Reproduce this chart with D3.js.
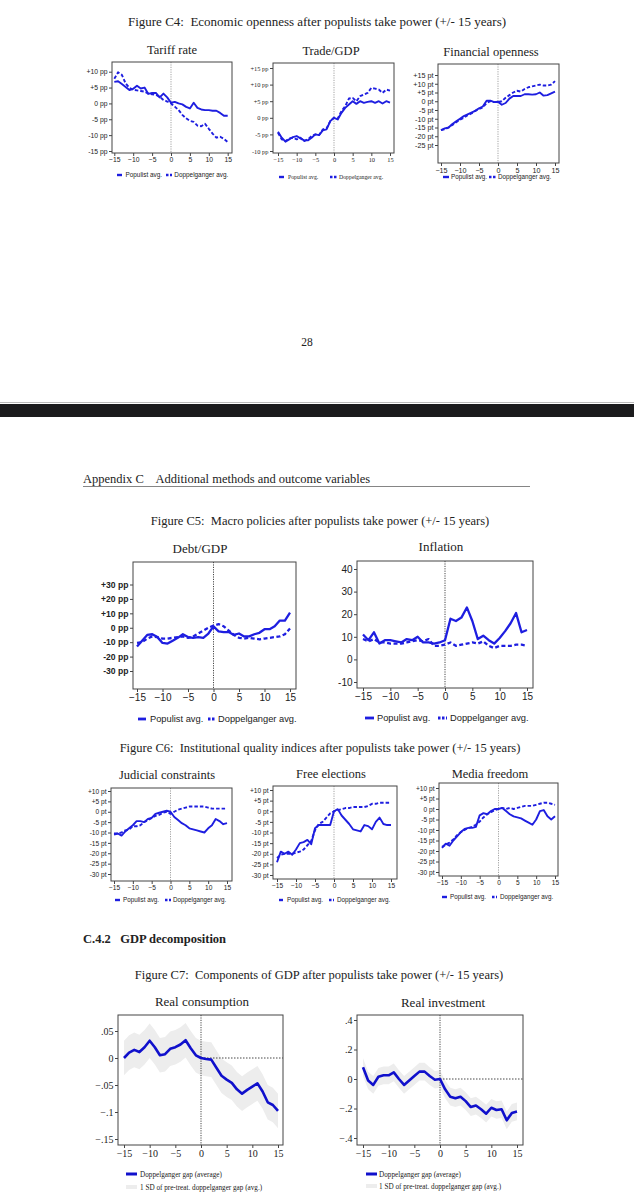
<!DOCTYPE html>
<html>
<head>
<meta charset="utf-8">
<script src="https://cdn.jsdelivr.net/npm/d3@7"></script>
<style>
  body { margin: 0; background: #fff; }
  svg { display: block; }
</style>
</head>
<body>
<script>
// years relative to populist taking power
const years = d3.range(-15, 16);

// Figure C4
const tariffPop = [6.8, 7.0, 6.1, 5.2, 4.2, 4.6, 5.6, 4.7, 5.0, 3.0, 3.3, 3.3, 1.9, 3.1, 1.9, 0.2, 0.5, 0, -0.3, -1.1, -1.6, 0.2, -1.4, -1.9, -2.1, -2.1, -2.3, -2.3, -3.0, -3.9, -3.9];
const tariffDop = [7.8, 9.8, 9.0, 6.3, 4.9, 4.3, 4.1, 3.9, 3.7, 3.1, 2.9, 2.7, 2.1, 1.1, 0.6, 0, -1.0, -2.1, -3.6, -4.7, -5.5, -5.8, -7.0, -7.2, -6.4, -8.0, -9.5, -10.8, -10.5, -11.2, -12.2];
const tradePop = [-4.2, -6.0, -7.2, -6.5, -5.8, -5.5, -6.2, -6.8, -6.8, -6.0, -5.0, -5.2, -3.8, -3.5, -1.0, 0, -0.5, 1.5, 3.0, 4.0, 5.0, 4.2, 5.0, 4.5, 4.8, 5.0, 4.5, 5.0, 4.3, 5.0, 4.6];
const tradeDop = [-4.5, -6.5, -7.0, -6.2, -6.0, -6.5, -6.0, -7.0, -6.5, -5.5, -5.0, -5.2, -3.5, -3.2, -1.0, 0, -0.2, 2.0, 3.5, 5.8, 6.0, 5.0, 6.5, 7.0, 7.5, 9.0, 8.8, 8.5, 7.5, 8.5, 8.2];
const finPop = [-16.5, -15.5, -15.0, -13.0, -11.5, -10.0, -8.5, -7.5, -6.5, -5.5, -4.0, -3.0, 0.3, 0.3, -0.5, -0.3, -2.0, -1.0, 1.5, 3.0, 3.0, 3.0, 4.0, 4.0, 3.8, 4.0, 5.0, 3.2, 3.5, 4.5, 5.5];
const finDop = [-16.5, -16.0, -15.0, -13.5, -12.0, -10.5, -9.5, -8.0, -7.0, -5.5, -4.5, -3.5, -1.0, 0, -0.5, -0.5, 0, 2.0, 3.5, 5.0, 6.0, 5.5, 7.0, 8.0, 8.5, 9.0, 9.5, 9.0, 9.0, 9.5, 11.5];

// Figure C5
const debtPop = [-13, -9, -5, -4.5, -6.5, -10.5, -11, -9, -7, -4.5, -6.5, -7, -6.5, -7, -4, 1, -2.5, -3, -3, -5, -4, -6, -6, -4.5, -3.5, -1, -1, 1, 5, 5, 10.5];
const debtDop = [-10.5, -10, -7.5, -6, -6.5, -7.5, -7.5, -7, -6.5, -6, -7, -6, -4, -2, 0, 1.5, 2.5, 1, -2, -5, -7, -7.5, -7, -7.5, -8, -7.5, -7, -6.5, -6, -4.5, -0.5];
const inflPop = [11, 8.5, 12, 7, 8.5, 8.5, 8, 7.5, 9, 8.5, 10, 7.5, 7.5, 7, 7.5, 8.5, 18, 17, 18.5, 23, 17, 9, 10.5, 8.5, 7, 9.5, 12.5, 16, 20.5, 12, 13];
const inflDop = [9, 8, 9, 7.5, 7.5, 7, 7, 7, 7.5, 8, 8.5, 8, 9, 6, 6, 6.5, 7.5, 6, 6.5, 7, 7.5, 7, 8, 6, 5, 6, 6, 6, 6.5, 6.5, 6];

// Figure C6
const judPop = [-11, -10.5, -11.5, -9.5, -8, -6.5, -4.5, -4.5, -5, -3.5, -3, -1, -0.5, 0, 0.5, 0, -2.5, -4, -5.5, -6.5, -8, -8.5, -9, -9.5, -10, -8, -6.5, -3.5, -4.5, -6, -5.5];
const judDop = [-10.5, -10.5, -10, -9, -8.5, -7, -7, -6.5, -5, -4, -3, -2, -1.5, -0.5, 0, -1, 0, 1, 1.5, 2, 2.5, 2.5, 2.5, 2.5, 2.5, 2, 1.5, 1.5, 1.5, 1.5, 1.5];
const elecPop = [-24, -19, -20, -19, -20.5, -18, -15, -14.5, -13.5, -15.5, -8, -6.5, -6.5, -6.5, -6.5, 0, 1, -2, -4, -6, -8.5, -9, -9.5, -6.5, -7, -8.5, -5, -3, -6, -6.5, -6.5];
const elecDop = [-22, -20.5, -20, -20, -20, -19.5, -19, -18, -16, -14, -9, -6, -5, -3, -1, 0, 0.5, 1, 1.5, 1.5, 2, 2, 2, 2, 2.5, 3.5, 3.5, 4, 4, 4, 4];
const mediaPop = [-18.5, -16.5, -17.5, -15, -13, -11, -9.5, -9, -9, -8.5, -3, -2, -2.5, -1, 0, 0, 0.5, -1, -2.5, -3.5, -4, -4.5, -5.5, -6.5, -7.5, -5, -1, -0.5, -3.5, -5, -3.5];
const mediaDop = [-18, -17, -16, -14.5, -12.5, -11, -10, -9, -8.5, -7.5, -6, -4, -2.5, -1.5, -0.5, 0, 0.5, 0, 0.5, 0, 0.5, 1, 1.5, 1.5, 1.5, 2, 2.5, 3, 3, 2.5, 2];

// Figure C7
const consGap = [0, 0.010, 0.015, 0.011, 0.020, 0.032, 0.020, 0.005, 0.007, 0.017, 0.020, 0.025, 0.033, 0.018, 0.005, 0, -0.002, -0.003, -0.018, -0.033, -0.040, -0.046, -0.058, -0.066, -0.059, -0.053, -0.047, -0.062, -0.082, -0.087, -0.098];
const consSD = 0.032;
const invGap = [0.08, -0.01, -0.04, 0.015, 0.025, 0.025, 0.045, 0.0, -0.04, -0.01, 0.02, 0.05, 0.05, 0.02, -0.005, 0, -0.07, -0.12, -0.13, -0.12, -0.15, -0.19, -0.18, -0.205, -0.235, -0.195, -0.21, -0.205, -0.28, -0.23, -0.22];
const invSD = 0.06;

const xTicks = [-15, -10, -5, 0, 5, 10, 15];
const ppTicks = [-15, -10, -5, 0, 5, 10];
const tradeTicks = [-10, -5, 0, 5, 10, 15];
const finTicks = [-25, -20, -15, -10, -5, 0, 5, 10, 15];
const debtTicks = [-30, -20, -10, 0, 10, 20, 30];
const inflTicks = [-10, 0, 10, 20, 30, 40];
const instTicks = [-30, -25, -20, -15, -10, -5, 0, 5, 10];
const consTicks = [-0.15, -0.1, -0.05, 0, 0.05];
const invTicks = [-0.4, -0.2, 0, 0.2, 0.4];

const SANS = "Liberation Sans, Arial, sans-serif";
const SERIF = "Liberation Serif, Times New Roman, serif";
const BLUE = "#1e1ee0";

const signed = unit => v => (v > 0 ? "+" : "") + v + " " + unit;
const decimal = v => v === 0 ? "0" : d3.format(".2~f")(v).replace("0.", ".");

const svg = d3.select("body").append("svg")
    .attr("width", 634)
    .attr("height", 1200);

// ---- page text ----
function pageText(x, y, str, size, opts = {}) {
    svg.append("text")
        .attr("x", x).attr("y", y)
        .attr("text-anchor", opts.anchor || "middle")
        .style("font-family", SERIF)
        .style("font-size", size + "px")
        .style("font-weight", opts.bold ? "700" : "400")
        .attr("fill", "#222")
        .attr("xml:space", "preserve")
        .text(str);
}

pageText(317, 26, "Figure C4:  Economic openness after populists take power (+/- 15 years)", 13);
pageText(307, 346, "28", 11.5);
svg.append("rect").attr("x", 0).attr("y", 402).attr("width", 634).attr("height", 1).attr("fill", "#bbb");
svg.append("rect").attr("x", 0).attr("y", 404).attr("width", 634).attr("height", 13).attr("fill", "#1b1b1d");
pageText(83, 483, "Appendix C    Additional methods and outcome variables", 12.5, {anchor: "start"});
svg.append("line").attr("x1", 83).attr("x2", 530).attr("y1", 486.5).attr("y2", 486.5).attr("stroke", "#666").attr("stroke-width", 0.8);
pageText(320, 525, "Figure C5:  Macro policies after populists take power (+/- 15 years)", 12.5);
pageText(320, 752, "Figure C6:  Institutional quality indices after populists take power (+/- 15 years)", 12.5);
pageText(83, 943, "C.4.2   GDP decomposition", 12.5, {anchor: "start", bold: true});
pageText(319, 979, "Figure C7:  Components of GDP after populists take power (+/- 15 years)", 12.5);

// ---- panels ----
function drawPanel(cfg) {
    const g = svg.append("g");
    const [fx0, fy0, fx1, fy1] = cfg.frame;
    const x = d3.scaleLinear().domain([-15, 15]).range(cfg.xr);
    const y = d3.scaleLinear().domain(cfg.yd).range(cfg.yr);
    const color = cfg.color || BLUE;

    g.append("rect")
        .attr("x", fx0).attr("y", fy0)
        .attr("width", fx1 - fx0).attr("height", fy1 - fy0)
        .attr("fill", "#fff");

    if (cfg.band) {
        const area = d3.area()
            .x((d, i) => x(years[i]))
            .y0(d => y(d - cfg.band.sd))
            .y1(d => y(d + cfg.band.sd));
        g.append("path").datum(cfg.band.values)
            .attr("d", area)
            .attr("fill", "#ededed");
    }

    g.append("line")
        .attr("x1", x(0)).attr("x2", x(0))
        .attr("y1", fy0).attr("y2", fy1)
        .attr("stroke", cfg.vlineColor || "#999")
        .attr("stroke-width", 0.9)
        .attr("stroke-dasharray", "1.2,1.2");

    if (cfg.hzero) {
        g.append("line")
            .attr("x1", x(0)).attr("x2", fx1)
            .attr("y1", y(0)).attr("y2", y(0))
            .attr("stroke", "#333")
            .attr("stroke-width", 0.9)
            .attr("stroke-dasharray", "1.5,1.5");
    }

    const line = d3.line().x((d, i) => x(years[i])).y(d => y(d));
    for (const s of cfg.series) {
        g.append("path").datum(s.values)
            .attr("d", line)
            .attr("fill", "none")
            .attr("stroke", color)
            .attr("stroke-width", cfg.lw || 1.9)
            .attr("stroke-linejoin", "round")
            .attr("stroke-dasharray", s.dashed ? cfg.dash || "3.5,2" : null);
    }

    g.append("rect")
        .attr("x", fx0).attr("y", fy0)
        .attr("width", fx1 - fx0).attr("height", fy1 - fy0)
        .attr("fill", "none")
        .attr("stroke", "#444")
        .attr("stroke-width", 1);

    const yAxis = g.append("g")
        .attr("transform", `translate(${fx0},0)`)
        .call(d3.axisLeft(y).tickValues(cfg.yTicks).tickFormat(cfg.yFmt).tickSize(3).tickPadding(1.5));
    const xAxis = g.append("g")
        .attr("transform", `translate(0,${fy1})`)
        .call(d3.axisBottom(x).tickValues(xTicks).tickSize(3).tickPadding(1.5));

    for (const [ax, size] of [[yAxis, cfg.yFont], [xAxis, cfg.xFont]]) {
        ax.select(".domain").remove();
        ax.selectAll("line").attr("stroke", "#444");
        ax.selectAll("text")
            .style("font-family", cfg.font)
            .style("font-size", size + "px")
            .style("font-weight", cfg.yBold && ax === yAxis ? "700" : "400")
            .attr("fill", "#222");
    }

    g.append("text")
        .attr("x", cfg.title[1]).attr("y", cfg.title[2])
        .attr("text-anchor", "middle")
        .style("font-family", SERIF)
        .style("font-size", (cfg.titleSize || 12.5) + "px")
        .attr("fill", "#222")
        .text(cfg.title[0]);

    // legend
    const L = cfg.legend;
    L.items.forEach((it, i) => {
        const ly = L.y + (L.rowGap ? i * L.rowGap : 0);
        if (it.kind === "band") {
            g.append("rect")
                .attr("x", it.s0).attr("y", ly - 2)
                .attr("width", it.s1 - it.s0).attr("height", 4)
                .attr("fill", "#ededed");
        } else {
            g.append("line")
                .attr("x1", it.s0).attr("x2", it.s1)
                .attr("y1", ly).attr("y2", ly)
                .attr("stroke", color)
                .attr("stroke-width", L.sw || 2.4)
                .attr("stroke-dasharray", it.kind === "dash" ? "2.5,1.5" : null);
        }
        g.append("text")
            .attr("x", it.tx).attr("y", ly)
            .attr("dy", "0.35em")
            .style("font-family", L.font || cfg.font)
            .style("font-size", L.size + "px")
            .attr("fill", "#222")
            .text(it.text);
    });
}

const popTxt = "Populist avg.", dopTxt = "Doppelganger avg.";

// C4
drawPanel({
    frame: [112, 62, 232, 153], xr: [114.3, 227.7], yd: [-15, 10], yr: [151, 71.7],
    yTicks: ppTicks, yFmt: signed("pp"), font: SANS, yFont: 6.8, xFont: 6.8,
    title: ["Tariff rate", 172, 54],
    series: [{values: tariffPop}, {values: tariffDop, dashed: true}],
    legend: {y: 175, size: 6.4, items: [
        {kind: "solid", s0: 117, s1: 122, tx: 125.5, text: popTxt},
        {kind: "dash", s0: 166, s1: 172, tx: 174.3, text: dopTxt}]}
});
drawPanel({
    frame: [273, 63, 394, 153], xr: [278, 390], yd: [-10, 15], yr: [151, 68],
    yTicks: tradeTicks, yFmt: signed("pp"), font: SERIF, yFont: 6.4, xFont: 6.4,
    title: ["Trade/GDP", 331, 55],
    series: [{values: tradePop}, {values: tradeDop, dashed: true}],
    legend: {y: 177, size: 5.8, items: [
        {kind: "solid", s0: 279, s1: 284, tx: 288, text: popTxt},
        {kind: "dash", s0: 330, s1: 337, tx: 339, text: dopTxt}]}
});
drawPanel({
    frame: [438, 64, 559, 163], xr: [441, 555], yd: [-25, 15], yr: [145, 75],
    yTicks: finTicks, yFmt: signed("pt"), font: SANS, yFont: 7.2, xFont: 7.2,
    title: ["Financial openness", 491, 56],
    series: [{values: finPop}, {values: finDop, dashed: true}],
    legend: {y: 177, size: 6.3, items: [
        {kind: "solid", s0: 443, s1: 449, tx: 451, text: popTxt},
        {kind: "dash", s0: 489, s1: 496, tx: 498, text: dopTxt}]}
});

// C5
drawPanel({
    frame: [133, 562, 296, 689], xr: [137, 290], yd: [-30, 30], yr: [671, 584.5],
    yTicks: debtTicks, yFmt: signed("pp"), font: SANS, yFont: 8.6, xFont: 10, yBold: true,
    title: ["Debt/GDP", 200, 553], titleSize: 13, lw: 2.3, dash: "4,2.5", vlineColor: "#333",
    series: [{values: debtPop}, {values: debtDop, dashed: true}],
    legend: {y: 719, size: 9.3, sw: 2.8, items: [
        {kind: "solid", s0: 138, s1: 146, tx: 150, text: popTxt},
        {kind: "dash", s0: 208, s1: 215, tx: 218, text: dopTxt}]}
});
drawPanel({
    frame: [357, 561, 533, 688], xr: [363, 527], yd: [-10, 40], yr: [682, 569],
    yTicks: inflTicks, yFmt: d => d, font: SANS, yFont: 10, xFont: 10,
    title: ["Inflation", 441, 551], titleSize: 13, lw: 2.3, dash: "4,2.5", vlineColor: "#333",
    series: [{values: inflPop}, {values: inflDop, dashed: true}],
    legend: {y: 718, size: 9.3, sw: 2.8, items: [
        {kind: "solid", s0: 365, s1: 374, tx: 377, text: popTxt},
        {kind: "dash", s0: 438, s1: 447, tx: 450, text: dopTxt}]}
});

// C6
drawPanel({
    frame: [111, 788, 232, 881], xr: [114, 227], yd: [-30, 10], yr: [874, 791],
    yTicks: instTicks, yFmt: signed("pt"), font: SANS, yFont: 6.6, xFont: 6.6,
    title: ["Judicial constraints", 167, 779],
    series: [{values: judPop}, {values: judDop, dashed: true}],
    legend: {y: 900, size: 6.3, items: [
        {kind: "solid", s0: 115, s1: 120, tx: 123, text: popTxt},
        {kind: "dash", s0: 165, s1: 171, tx: 173, text: dopTxt}]}
});
drawPanel({
    frame: [273, 786, 397, 879], xr: [277, 391], yd: [-30, 10], yr: [875, 790],
    yTicks: instTicks, yFmt: signed("pt"), font: SANS, yFont: 6.6, xFont: 6.6,
    title: ["Free elections", 331, 778],
    series: [{values: elecPop}, {values: elecDop, dashed: true}],
    legend: {y: 900, size: 6.3, items: [
        {kind: "solid", s0: 279, s1: 283, tx: 287, text: popTxt},
        {kind: "dash", s0: 329, s1: 334, tx: 337, text: dopTxt}]}
});
drawPanel({
    frame: [439, 783, 558, 876], xr: [442, 555], yd: [-30, 10], yr: [872, 788],
    yTicks: instTicks, yFmt: signed("pt"), font: SANS, yFont: 6.6, xFont: 6.6,
    title: ["Media freedom", 490, 778],
    series: [{values: mediaPop}, {values: mediaDop, dashed: true}],
    legend: {y: 897, size: 6.3, items: [
        {kind: "solid", s0: 442, s1: 447, tx: 450, text: popTxt},
        {kind: "dash", s0: 492, s1: 497, tx: 500, text: dopTxt}]}
});

// C7
drawPanel({
    frame: [118, 1015, 283, 1145], xr: [124, 278], yd: [-0.15, 0.05], yr: [1139, 1031],
    yTicks: consTicks, yFmt: decimal, font: SERIF, yFont: 10, xFont: 10,
    title: ["Real consumption", 202, 1006], titleSize: 13, lw: 2.6, color: "#1010cc",
    vlineColor: "#333", hzero: true,
    band: {values: consGap, sd: consSD},
    series: [{values: consGap}],
    legend: {y: 1174, rowGap: 13, size: 7.2, font: SERIF, sw: 3, items: [
        {kind: "solid", s0: 126, s1: 137, tx: 140, text: "Doppelganger gap (average)"},
        {kind: "band", s0: 126, s1: 137, tx: 140, text: "1 SD of pre-treat. doppelganger gap (avg.)"}]}
});
drawPanel({
    frame: [357, 1015, 523, 1145], xr: [363, 517], yd: [-0.4, 0.4], yr: [1138, 1020],
    yTicks: invTicks, yFmt: decimal, font: SERIF, yFont: 10, xFont: 10,
    title: ["Real investment", 443, 1007], titleSize: 13, lw: 2.6, color: "#1010cc",
    vlineColor: "#333", hzero: true,
    band: {values: invGap, sd: invSD},
    series: [{values: invGap}],
    legend: {y: 1174, rowGap: 12, size: 7.2, font: SERIF, sw: 3, items: [
        {kind: "solid", s0: 366, s1: 377, tx: 379, text: "Doppelganger gap (average)"},
        {kind: "band", s0: 366, s1: 377, tx: 379, text: "1 SD of pre-treat. doppelganger gap (avg.)"}]}
});
</script>
</body>
</html>
